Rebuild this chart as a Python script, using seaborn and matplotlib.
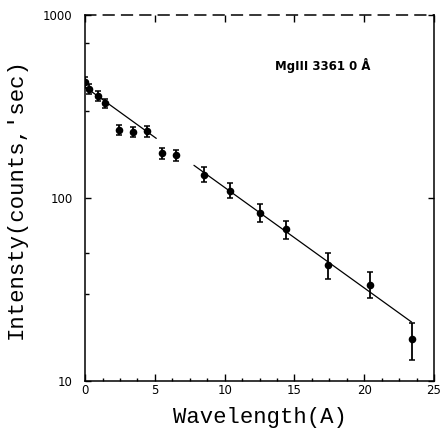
import numpy as np
import matplotlib
matplotlib.use("Agg")
import matplotlib.pyplot as plt
from matplotlib.ticker import FixedLocator, MultipleLocator, NullFormatter
import seaborn as sns

wavelength = [0.0, 0.3, 0.9, 1.4, 2.4, 3.4, 4.4, 5.5, 6.5, 8.5, 10.4, 12.5, 14.4, 17.4, 20.4, 23.4]
intensity = [430, 394, 361, 330, 235, 230, 232, 176, 172, 134, 109, 83, 68, 43, 33.5, 17]
err_low = [30, 25, 22, 20, 15, 15, 15, 12, 12, 12, 9, 9, 8, 7, 5, 4]
err_high = [30, 25, 22, 20, 15, 15, 15, 12, 12, 13.5, 12, 10, 7, 7, 6, 3.8]

# fitted line (broken around the 5-8 A points as in the original)
fit_x = [0.0, 5.1, np.nan, 7.8, 23.4]
fit_y = [405, 212, np.nan, 151, 21]

x_ticks = [0, 5, 10, 15, 20, 25]
y_ticks = [10, 100, 1000]
y_minor = [30, 50, 300, 700]
line_label = "MgIII 3361 0 Å"

sns.set_style("ticks")
plt.rcParams['font.family'] = ['DejaVu Sans']
plt.rcParams['text.color'] = 'black'
plt.rcParams['axes.labelcolor'] = 'black'
plt.rcParams['xtick.color'] = 'black'
plt.rcParams['ytick.color'] = 'black'

fig = plt.figure(figsize=(4.41, 4.32), dpi=100)
ax = fig.add_axes([0.193, 0.118, 0.791, 0.847])

ax.plot(fit_x, fit_y, color='black', lw=0.9)
ax.errorbar(wavelength, intensity, yerr=[err_low, err_high], fmt='none',
            ecolor='black', elinewidth=1.3, capsize=2.5, capthick=1.1)
sns.scatterplot(x=wavelength, y=intensity, color='black', s=30,
                edgecolor='black', linewidth=0, ax=ax, zorder=3)

ax.set_yscale('log')
ax.set_xlim(0, 25)
ax.set_ylim(10, 1000)

ax.xaxis.set_major_locator(FixedLocator(x_ticks))
ax.xaxis.set_minor_locator(MultipleLocator(1.25))
ax.yaxis.set_major_locator(FixedLocator(y_ticks))
ax.yaxis.set_minor_locator(FixedLocator(y_minor))
ax.yaxis.set_minor_formatter(NullFormatter())
ax.set_yticklabels([str(v) for v in y_ticks])

ax.tick_params(axis='x', which='major', direction='in', length=5, width=1,
               top=True, labelsize=8.5, pad=2)
ax.tick_params(axis='x', which='minor', direction='in', length=2.5, width=1,
               top=False)
ax.tick_params(axis='y', which='major', direction='in', length=4, width=1,
               right=True, labelsize=8.5, pad=9)
ax.tick_params(axis='y', which='minor', direction='in', length=3, width=1,
               right=False)

for side in ['left', 'right', 'bottom', 'top']:
    ax.spines[side].set_visible(True)
    ax.spines[side].set_linewidth(1.1)
    ax.spines[side].set_color('black')
ax.spines['top'].set_linestyle((0, (7, 5)))

ax.text(13.6, 533, line_label, fontsize=8.5, fontweight='bold', va='center')

ax.set_xlabel("Wavelength(A)", fontsize=16, family='Liberation Mono', labelpad=7)
ax.set_ylabel("Intensty(counts,'sec)", fontsize=16, family='Liberation Mono', labelpad=12)

fig.savefig('out.png', dpi=100, facecolor='white')
